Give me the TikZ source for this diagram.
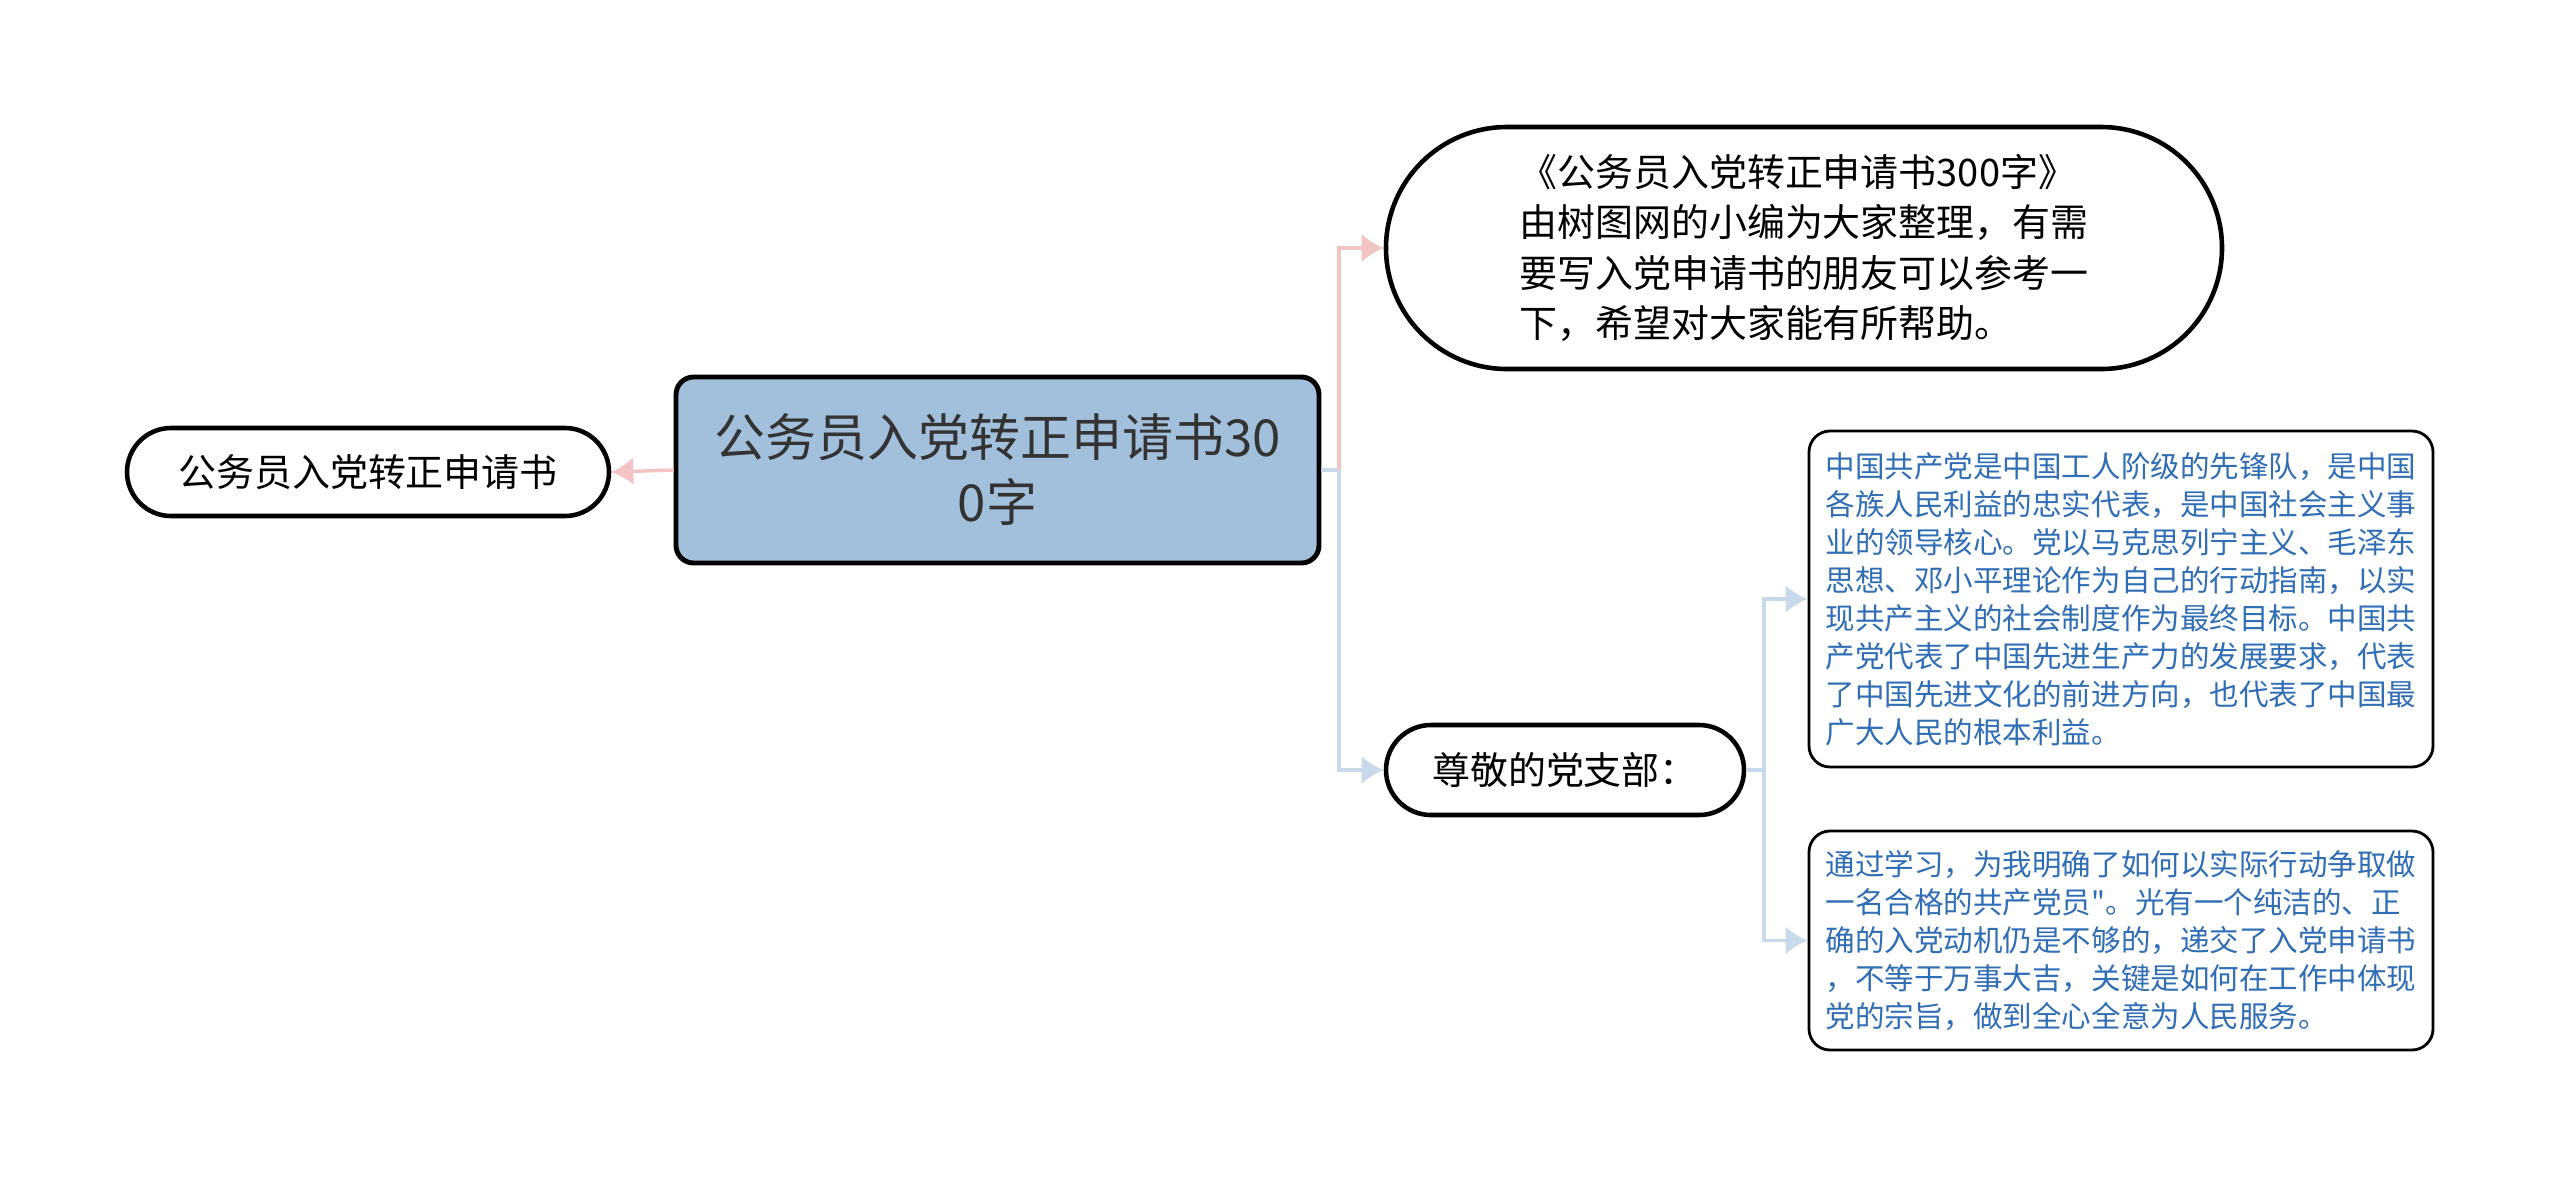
\documentclass[tikz,border=0pt]{standalone}
\usepackage{fontspec}
\newfontfamily\cjk{Noto Sans CJK SC}
\usetikzlibrary{arrows.meta, positioning}

\definecolor{rootblue}{HTML}{A2BFDC}
\definecolor{linkpink}{HTML}{F2C4C4}
\definecolor{linkblue}{HTML}{C8D9EA}
\definecolor{textblue}{HTML}{2F6DB5}

\begin{document}
\begin{tikzpicture}[
    topic/.style={rectangle, draw, line width=1.4pt, rounded corners=5pt, fill=rootblue, minimum width=6.43cm, minimum height=1.86cm, align=center, text=black!80, font=\cjk\fontsize{14.5}{18.5}\selectfont},
    pill/.style={rectangle, draw, line width=1.3pt, rounded corners=#1, fill=white, align=left, font=\cjk\fontsize{10.8}{14.4}\selectfont},
    note/.style={rectangle, draw, line width=0.8pt, rounded corners=6pt, fill=white, align=left, minimum width=6.24cm, text=textblue, font=\cjk\fontsize{8.4}{10.8}\selectfont},
    pinkarrow/.style={draw=linkpink, line width=1pt, -{Latex[length=2.2mm, width=2.8mm]}},
    bluearrow/.style={draw=linkblue, line width=1pt, -{Latex[length=2.2mm, width=2.8mm]}}
]
\useasboundingbox (0,0) rectangle (25.6,-11.77);

% Central topic and left branch
\node[topic] (root) at (9.975,-4.70) {公务员入党转正申请书30\\0字};
\node[pill=0.44cm, minimum width=4.82cm, minimum height=0.88cm] (title) at (3.68,-4.72) {公务员入党转正申请书};

\draw[pinkarrow] (root.west) -- (title.east);

% Right branches
\node[pill=1.21cm, minimum width=8.36cm, minimum height=2.42cm] (intro) at (18.04,-2.48) {《公务员入党转正申请书300字》\\由树图网的小编为大家整理，有需\\要写入党申请书的朋友可以参考一\\下，希望对大家能有所帮助。};
\node[pill=0.45cm, minimum width=3.58cm, minimum height=0.90cm] (dear) at (15.65,-7.70) {尊敬的党支部：};

\coordinate (rootfork) at (13.39,-4.70);
\draw[draw=linkblue, line width=1pt] (root.east) -- (rootfork);
\draw[pinkarrow] (rootfork) |- (intro.west);
\draw[bluearrow] (rootfork) |- (dear.west);

% Notes under the party branch
\node[note, minimum height=3.36cm] (party) at (21.21,-5.99) {中国共产党是中国工人阶级的先锋队，是中国\\各族人民利益的忠实代表，是中国社会主义事\\业的领导核心。党以马克思列宁主义、毛泽东\\思想、邓小平理论作为自己的行动指南，以实\\现共产主义的社会制度作为最终目标。中国共\\产党代表了中国先进生产力的发展要求，代表\\了中国先进文化的前进方向，也代表了中国最\\广大人民的根本利益。};
\node[note, minimum height=2.19cm] (study) at (21.21,-9.405) {通过学习，为我明确了如何以实际行动争取做\\一名合格的共产党员"。光有一个纯洁的、正\\确的入党动机仍是不够的，递交了入党申请书\\，不等于万事大吉，关键是如何在工作中体现\\党的宗旨，做到全心全意为人民服务。};

\coordinate (dearfork) at (17.64,-7.70);
\draw[draw=linkblue, line width=1pt] (dear.east) -- (dearfork);
\draw[bluearrow] (dearfork) |- (party.west);
\draw[bluearrow] (dearfork) |- (study.west);

\end{tikzpicture}
\end{document}
